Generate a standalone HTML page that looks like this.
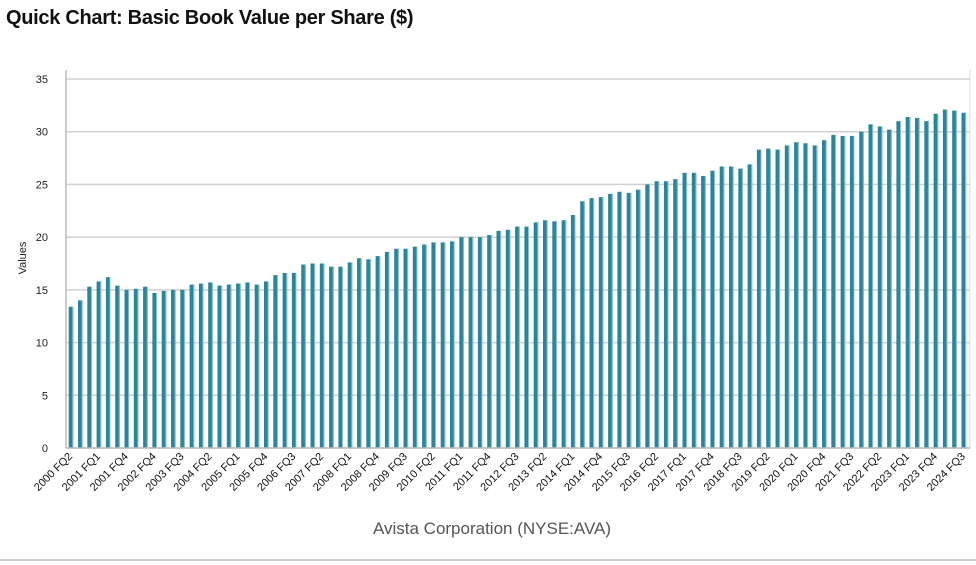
<!DOCTYPE html>
<html><head><meta charset="utf-8"><style>
body{margin:0;width:976px;height:565px;background:#fff;font-family:"Liberation Sans",sans-serif;overflow:hidden;position:relative}
#title{position:absolute;left:6px;top:7px;font-size:20px;font-weight:bold;color:#111;letter-spacing:-0.3px}
</style></head><body>
<div id="title">Quick Chart: Basic Book Value per Share ($)</div>
<svg id="chart" width="976" height="565" style="position:absolute;left:0;top:0"></svg>
<script>
const values = [13.4,14.0,15.3,15.8,16.2,15.4,15.0,15.1,15.3,14.7,14.9,15.0,15.0,15.5,15.6,15.7,15.4,15.5,15.6,15.7,15.5,15.8,16.4,16.6,16.6,17.4,17.5,17.5,17.2,17.2,17.6,18.0,17.9,18.2,
18.6,18.9,18.9,19.1,19.3,19.5,19.5,19.6,20.0,20.0,20.0,20.2,20.6,20.7,21.0,21.0,21.4,21.6,21.5,21.6,22.1,23.4,23.7,23.8,24.1,24.3,24.2,24.5,25.0,25.3,25.3,25.5,
26.1,26.1,25.8,26.3,26.7,26.7,26.5,26.9,28.3,28.4,28.3,28.7,29.0,28.9,28.7,29.2,29.7,29.6,29.6,30.0,30.7,30.5,30.2,31.0,31.4,31.3,31.0,31.7,32.1,32.0,31.8];
const yTicks = [0,5,10,15,20,25,30,35];
const categories = [];
(function(){let y=2000,q=2;while(categories.length<97){if(!(y===2002&&q===1))categories.push(y+' FQ'+q);q++;if(q>4){q=1;y++;}}})();
const svg=document.getElementById('chart');const NS='http://www.w3.org/2000/svg';
const X0=71,STEP=9.3,Y0=448,YMAX=79;
const yS=v=>Y0-(v/35)*(Y0-YMAX);
const xS=i=>X0+i*STEP;
function mk(t,a){const e=document.createElementNS(NS,t);for(const k in a)e.setAttribute(k,a[k]);svg.appendChild(e);return e;}
yTicks.forEach(v=>{const g=mk('line',{x1:66,x2:970,y1:yS(v),y2:yS(v),stroke:'#d0d0d0','stroke-width':1.5});


const t=mk('text',{x:48,y:yS(v)+4,'text-anchor':'end','font-size':11,fill:'#222'});t.textContent=v;

});
const ax=mk('line',{x1:66,x2:66,y1:70,y2:448,stroke:'#bbb','stroke-width':1.5});


const rx=mk('line',{x1:970,x2:970,y1:70,y2:448,stroke:'#ddd','stroke-width':1});


values.forEach((v,i)=>{const b=mk('rect',{x:xS(i)-2.3,y:yS(v),width:4.6,height:Y0-yS(v),fill:'#2a8599'});


const hl=mk('rect',{x:xS(i)+1.3,y:yS(v),width:1,height:Y0-yS(v),fill:'#8cc0cc'});

});
const bx=mk('line',{x1:66,x2:970,y1:448,y2:448,stroke:'#bbb','stroke-width':1.5});


categories.forEach((c,i)=>{if(i%3!==0)return;const x=xS(i)+2,y=457;
const t=mk('text',{x:x,y:y,'text-anchor':'end','font-size':11,fill:'#111',transform:`rotate(-45 ${x} ${y})`});t.textContent=c;

});
const yt=mk('text',{x:26,y:258,'text-anchor':'middle','font-size':11,fill:'#222',transform:'rotate(-90 26 258)'});yt.textContent='Values';


const xt=mk('text',{x:492,y:534,'text-anchor':'middle','font-size':17,fill:'#555'});xt.textContent='Avista Corporation (NYSE:AVA)';


const bl=mk('line',{x1:0,x2:976,y1:560,y2:560,stroke:'#999','stroke-width':1});


</script>
</body></html>
